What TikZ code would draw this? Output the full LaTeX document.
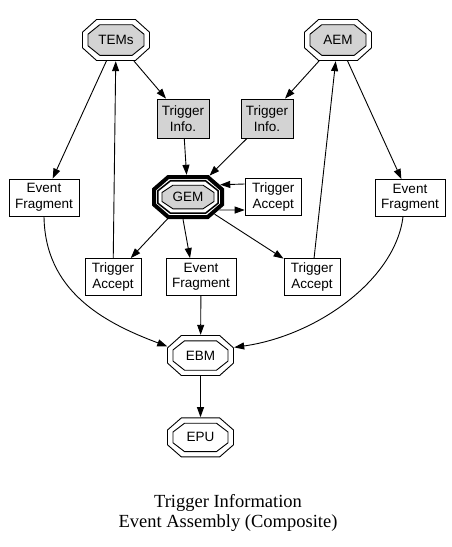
\documentclass[tikz,border=0pt]{standalone}
\usepackage{fontspec}
\setmainfont{Liberation Serif}
\setsansfont{Liberation Sans}
\usetikzlibrary{arrows.meta,positioning,shapes.geometric,backgrounds}
\definecolor{nodeGray}{RGB}{211,211,211}
\definecolor{lineInk}{RGB}{0,0,0}
\tikzset{
  box/.style={draw=lineInk, fill=white, align=center, inner sep=0pt, minimum width=56pt, minimum height=37pt, line width=0.9pt, font=\sffamily\fontsize{13.5}{15.5}\selectfont},
  graybox/.style={box, fill=nodeGray, minimum width=52pt, minimum height=39pt},
  widebox/.style={box, minimum width=70pt},
  octnode/.style={ellipse, inner sep=0pt, minimum width=68pt, minimum height=42pt, font=\sffamily\fontsize{13.5}{15.5}\selectfont},
  octline/.style={draw=lineInk, line width=0.9pt},
  flow/.style={-{Triangle[length=10pt,width=7pt]}, line width=0.9pt, draw=lineInk}
}
% octagon round a named node: node, half width, half height
\newcommand{\octo}[4][]{%
  \path[octline,shift={(#2.center)},#1] ({-0.58*#3},#4) -- ({0.58*#3},#4) -- (#3,{0.38*#4}) -- (#3,{-0.38*#4})
    -- ({0.58*#3},-#4) -- ({-0.58*#3},-#4) -- (-#3,{-0.38*#4}) -- (-#3,{0.38*#4}) -- cycle;}

\begin{document}
\begin{tikzpicture}[x=1pt,y=1pt]
  \useasboundingbox (0,0) rectangle (452,-547);
  % top row
  \node[octnode] (tems) at (116,-40) {TEMs};
  \node[octnode] (aem) at (338,-40) {AEM};
  \node[graybox] (tiL) at (183,-118.5) {Trigger\\Info.};
  \node[graybox] (tiR) at (267,-118.5) {Trigger\\Info.};
  % middle row
  \node[octnode, minimum width=72pt, minimum height=44pt] (gem) at (188,-197) {GEM};
  \node[box, right=20.5pt of gem] (taG) {Trigger\\Accept};
  \node[widebox] (efL) at (44,-197.5) {Event\\Fragment};
  \node[widebox] (efR) at (410,-198) {Event\\Fragment};
  % lower row
  \node[box] (taL) at (113,-277) {Trigger\\Accept};
  \node[widebox] (efM) at (201,-277) {Event\\Fragment};
  \node[box] (taR) at (312,-277) {Trigger\\Accept};
  \node[octnode, minimum width=67pt, minimum height=41pt] (ebm) at (200.5,-355.5) {EBM};
  \node[octnode, minimum width=67pt, minimum height=40pt, below=41pt of ebm] (epu) {EPU};
  \node[align=center, font=\fontsize{18.5}{19.5}\selectfont] (cap) at (228,-513) {Trigger Information\\Event Assembly (Composite)};

  \begin{scope}[on background layer]
    \octo{tems}{33.5}{20.5} \octo[fill=nodeGray]{tems}{28}{15.3}
    \octo{aem}{33.5}{20.5} \octo[fill=nodeGray]{aem}{28}{15.3}
    \octo[line width=4pt]{gem}{34}{20} \octo[line width=1.5pt]{gem}{30.2}{16.2}
    \octo[fill=nodeGray]{gem}{26}{11.8}
    \octo{ebm}{33}{20} \octo{ebm}{27.5}{14.7}
    \octo{epu}{33}{19.5} \octo{epu}{27.5}{14.2}
  \end{scope}

  \draw[flow, shorten <=3pt] (tems) -- (tiL);
  \draw[flow] (tems) -- (efL);
  \draw[flow] (taL) -- (tems);
  \draw[flow, shorten <=3pt] (aem) -- (tiR);
  \draw[flow] (aem) -- (efR);
  \draw[flow] (taR) -- (aem);
  \draw[flow] (tiL) -- (gem);
  \draw[flow, shorten >=3.5pt] (tiR) -- (gem);
  \draw[flow, shorten >=2pt] ([yshift=13pt]taG.west) -- (gem.22);
  \draw[flow, shorten <=2pt] (gem.-24) -- ([yshift=-13pt]taG.west);
  \draw[flow, shorten <=3pt] (gem) -- (taL);
  \draw[flow] ([xshift=-5pt]gem.south) -- ([xshift=-11pt]efM.north);
  \draw[flow, shorten <=2pt] (gem) -- (taR);
  \draw[flow, shorten >=2.5pt] (efL.south) .. controls +(1,-74) and +(-67,25) .. (ebm.165);
  \draw[flow] (efM) -- (ebm);
  \draw[flow, shorten >=2.5pt] ([xshift=-7pt]efR.south) .. controls +(-8,-63) and +(85,12) .. (ebm.14);
  \draw[flow] (ebm) -- (epu);
\end{tikzpicture}
\end{document}
